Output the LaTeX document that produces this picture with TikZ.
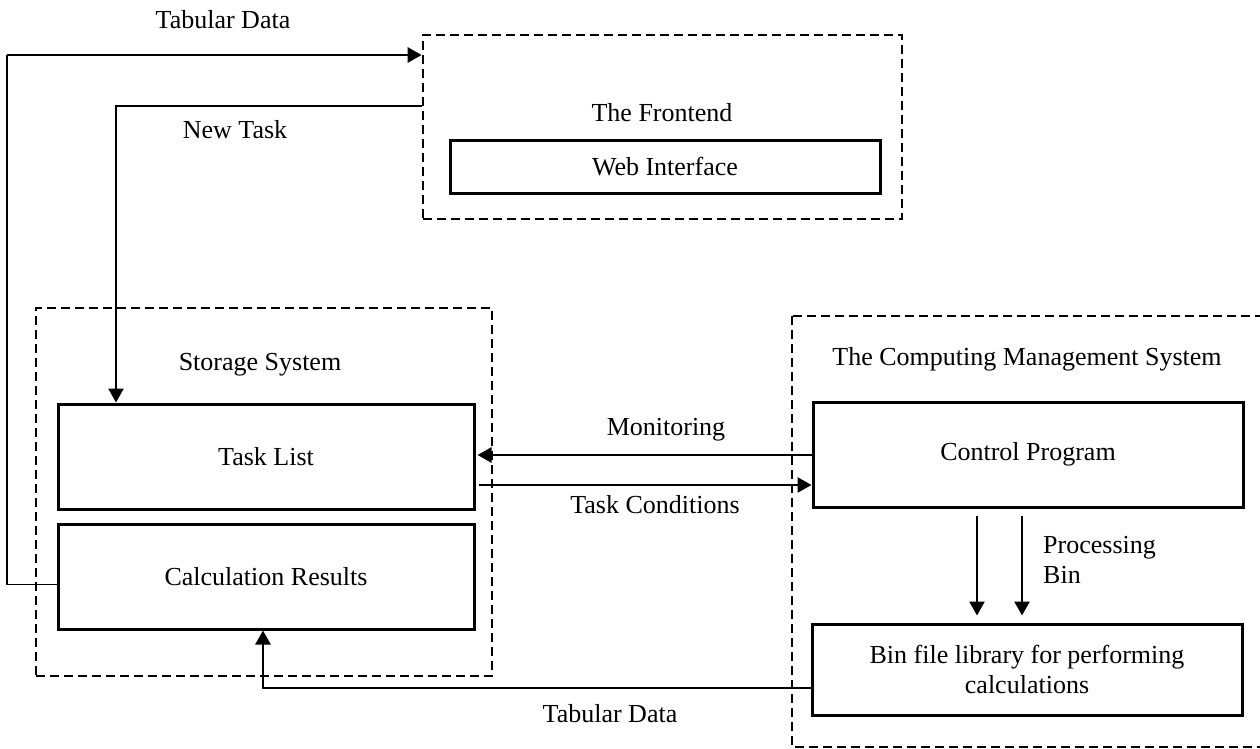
\documentclass[tikz,border=0pt]{standalone}
\usepackage{fontspec}
\setmainfont{Liberation Serif}
\usetikzlibrary{arrows.meta,calc}

\tikzset{
  box/.style={draw, line width=3pt, rectangle, inner sep=0pt},
  group/.style={draw, line width=2.6pt, dash pattern=on 9pt off 5pt, rectangle, inner sep=0pt},
  lbl/.style={inner sep=0pt, font=\fontsize{26}{30}\selectfont},
  arr/.style={line width=2.6pt, -{Triangle[length=14pt,width=15pt]}},
  plain/.style={line width=2.6pt},
  thinline/.style={line width=1.6pt}
}

\begin{document}
\begin{tikzpicture}[x=1pt,y=-1pt]
\useasboundingbox (0,0) rectangle (1260,749);
\fill[white] (0,0) rectangle (1260,749);

% the three subsystem frames
\node[group, minimum width=479pt, minimum height=184pt] (fe) at (662.5,127) {};
\node[group, minimum width=456pt, minimum height=368pt] (ss) at (264,492) {};
\begin{scope}
  \clip (0,0) rectangle (1260,749);
  \draw[group] (792,316) rectangle (1290,747);
\end{scope}

% frame titles
\node[lbl] (feTitle) at (662,113) {The Frontend};
\node[lbl] (ssTitle) at (260,365) {Storage System};
\node[lbl] (cmsTitle) at (1027,359) {The Computing Management System};

% inner blocks
\node[box, minimum width=430pt, minimum height=53pt] (wi) at (665,166.5) {};
\node[lbl] at (wi) {Web Interface};
\node[box, minimum width=416pt, minimum height=105pt] (tl) at (266,456.5) {};
\node[lbl] at (tl) {Task List};
\node[box, minimum width=416pt, minimum height=105pt] (cr) at (266,576.5) {};
\node[lbl] at (cr) {Calculation Results};
\node[box, minimum width=430pt, minimum height=105pt] (cp) at (1028,454.5) {};
\node[lbl] at (cp) {Control Program};
\node[box, minimum width=430pt, minimum height=91pt] (bl) at (1027,669.5) {};
\node[lbl, align=center] at (bl) {Bin file library for performing\\calculations};

% turning points of the connectors
\coordinate (crOut) at ([yshift=-8pt]cr.west);
\coordinate (tdTurn) at (7,55);
\coordinate (ntTurn) at (116,106);
\coordinate (tdBot) at (263,688);
\coordinate (monY) at (0,455);
\coordinate (tcY) at (0,485);
\coordinate (pA) at (977,0);
\coordinate (pB) at (1022,0);

% results exported as tabular data to the frontend
\draw[thinline] (crOut) -- (tdTurn |- crOut);
\draw[plain] (tdTurn |- crOut) -- (tdTurn);
\draw[arr] (tdTurn) -- (fe.west |- tdTurn);
\node[lbl] (tdTop) at (223,20) {Tabular Data};

% new tasks from the frontend
\draw[arr] (fe.west |- ntTurn) -- (ntTurn) -- (ntTurn |- tl.north);
\node[lbl] (ntLbl) at (235,130) {New Task};

% exchange between storage and control program
\draw[arr] (cp.west |- monY) -- ([xshift=2pt]tl.east |- monY);
\node[lbl] (monLbl) at (666,430) {Monitoring};
\draw[arr] ([xshift=3pt]tl.east |- tcY) -- (cp.west |- tcY);
\node[lbl] (tcLbl) at (655,505) {Task Conditions};

% control program to the bin library
\draw[arr, shorten <=7pt, shorten >=7pt] (pA |- cp.south) -- (pA |- bl.north);
\draw[arr, shorten <=7pt, shorten >=7pt] (pB |- cp.south) -- (pB |- bl.north);
\node[lbl, align=left, anchor=west] (pbLbl) at (1043,560) {Processing\\Bin};

% results back into storage
\draw[arr] (bl.west |- tdBot) -- (tdBot) -- (tdBot |- cr.south);
\node[lbl] (tdBotLbl) at (610,714) {Tabular Data};
\end{tikzpicture}
\end{document}
